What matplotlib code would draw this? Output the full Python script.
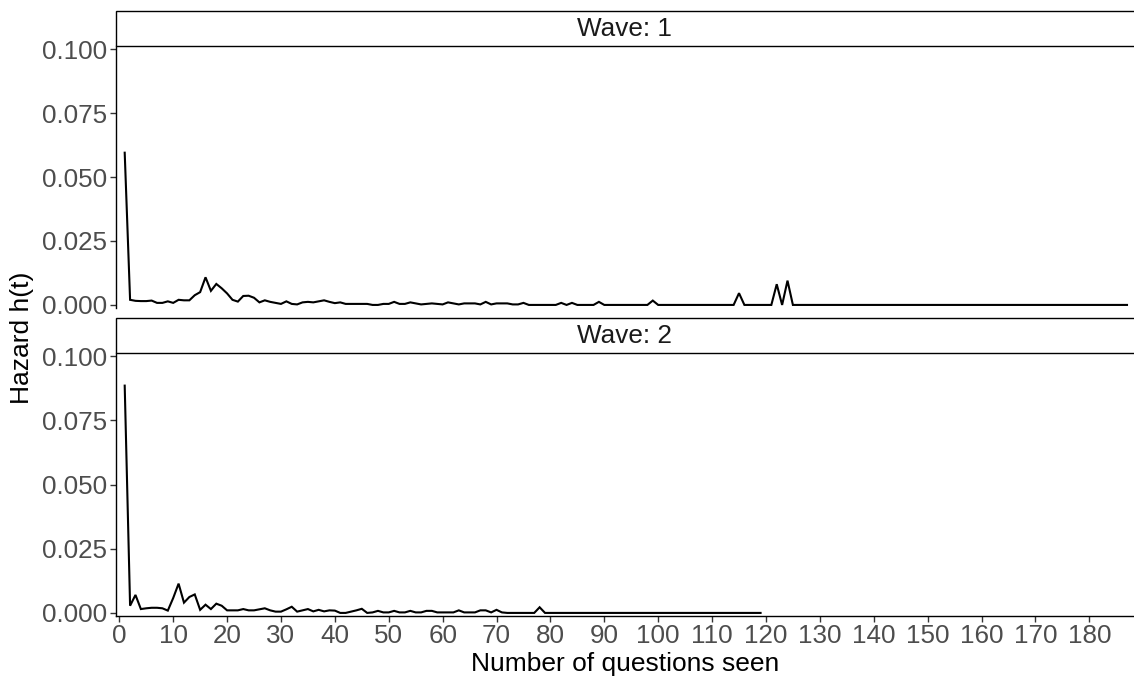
import numpy as np
import matplotlib
matplotlib.use("Agg")
import matplotlib.pyplot as plt
from matplotlib.patches import Rectangle

plt.rcParams['font.family'] = ['Liberation Sans', 'DejaVu Sans']

# Hazard por número de perguntas vistas
wave1_h = [0.0595, 0.0020, 0.0016, 0.0015, 0.0015, 0.0017, 0.0008, 0.0008, 0.0014, 0.0008,
           0.0020, 0.0018, 0.0018, 0.0038, 0.0050, 0.0108, 0.0055, 0.0082, 0.0065, 0.0045,
           0.0020, 0.0013, 0.0035, 0.0036, 0.0028, 0.0010, 0.0018, 0.0012, 0.0008, 0.0004,
           0.0014, 0.0004, 0.0002, 0.0010, 0.0012, 0.0010, 0.0014, 0.0018, 0.0012, 0.0007,
           0.0010, 0.0004, 0.0004, 0.0004, 0.0004, 0.0004, 0.0000, 0.0000, 0.0004, 0.0004,
           0.0012, 0.0004, 0.0004, 0.0010, 0.0006, 0.0002, 0.0004, 0.0006, 0.0004, 0.0002,
           0.0010, 0.0006, 0.0002, 0.0006, 0.0006, 0.0006, 0.0002, 0.0012, 0.0002, 0.0006,
           0.0006, 0.0006, 0.0002, 0.0002, 0.0008, 0.0000, 0.0000, 0.0000, 0.0000, 0.0000,
           0.0000, 0.0008, 0.0000, 0.0008, 0.0000, 0.0000, 0.0000, 0.0000, 0.0012, 0.0000,
           0.0000, 0.0000, 0.0000, 0.0000, 0.0000, 0.0000, 0.0000, 0.0000, 0.0017, 0.0000,
           0.0000, 0.0000, 0.0000, 0.0000, 0.0000, 0.0000, 0.0000, 0.0000, 0.0000, 0.0000,
           0.0000, 0.0000, 0.0000, 0.0000, 0.0046, 0.0000, 0.0000, 0.0000, 0.0000, 0.0000,
           0.0000, 0.0081, 0.0000, 0.0095] + [0.0] * 63

wave2_h = [0.0885, 0.0028, 0.0070, 0.0015, 0.0018, 0.0020, 0.0020, 0.0018, 0.0009, 0.0058,
           0.0114, 0.0040, 0.0062, 0.0072, 0.0012, 0.0032, 0.0015, 0.0036, 0.0028, 0.0010,
           0.0010, 0.0010, 0.0015, 0.0010, 0.0010, 0.0014, 0.0018, 0.0010, 0.0005, 0.0005,
           0.0014, 0.0024, 0.0005, 0.0010, 0.0015, 0.0006, 0.0012, 0.0006, 0.0010, 0.0009,
           0.0000, 0.0000, 0.0005, 0.0010, 0.0016, 0.0000, 0.0002, 0.0008, 0.0002, 0.0002,
           0.0008, 0.0002, 0.0002, 0.0008, 0.0002, 0.0002, 0.0008, 0.0008, 0.0002, 0.0002,
           0.0002, 0.0002, 0.0010, 0.0002, 0.0002, 0.0002, 0.0010, 0.0010, 0.0002, 0.0012,
           0.0002, 0.0000, 0.0000, 0.0000, 0.0000, 0.0000, 0.0000, 0.0022] + [0.0] * 41

wave1_x = np.arange(1, len(wave1_h) + 1)
wave2_x = np.arange(1, len(wave2_h) + 1)

waves = [("Wave: 1", wave1_x, wave1_h), ("Wave: 2", wave2_x, wave2_h)]
y_ticks = [0.0, 0.025, 0.05, 0.075, 0.1]
x_ticks = list(range(0, 181, 10))

fig = plt.figure(figsize=(11.34, 6.77), dpi=100)
W, H = 1134, 677
left, right = 115.7, 1134
# (topo do strip, fundo do strip / topo do painel, fundo do painel) em pixels
panels = [(10.7, 46, 308), (318, 353, 616)]

for i, ((label, x, h), (s_top, p_top, p_bot)) in enumerate(zip(waves, panels)):
    ax = fig.add_axes([left / W, 1 - p_bot / H, (right - left) / W, (p_bot - p_top) / H])
    ax.plot(x, h, color='black', lw=1.5, solid_joinstyle='miter')
    ax.set_xlim(-0.67, 188.3)
    ax.set_ylim(-0.0012, 0.1012)
    ax.set_yticks(y_ticks)
    ax.set_yticklabels([f"{v:.3f}" for v in y_ticks])
    ax.set_xticks(x_ticks)
    for s in ['top', 'right']:
        ax.spines[s].set_visible(False)
    ax.spines['left'].set_linewidth(1.0)
    ax.spines['bottom'].set_linewidth(1.0)
    ax.tick_params(axis='both', labelsize=18.7, labelcolor='#4d4d4d', color='#333333',
                   length=4, width=1.0, pad=2)
    if i == 0:
        ax.spines['bottom'].set_visible(False)
        ax.tick_params(axis='x', bottom=False, labelbottom=False)

    # strip do facet
    sax = fig.add_axes([left / W, 1 - p_top / H, (right - left) / W, (p_top - s_top) / H])
    sax.set_xlim(0, 1)
    sax.set_ylim(0, 1)
    sax.axis('off')
    sax.add_patch(Rectangle((0, 0), 1.2, 1, facecolor='white', edgecolor='black',
                            lw=1.0, clip_on=False))
    sax.text(0.5, 0.48, label, ha='center', va='center', fontsize=18.8, color='#1a1a1a')

fig.text(625 / W, 1 - 664 / H, "Number of questions seen", ha='center', va='center',
         fontsize=19, color='black')
fig.text(22 / W, 1 - 338 / H, "Hazard h(t)", ha='center', va='center', rotation=90,
         fontsize=19, color='black')

fig.savefig("out.png", dpi=100)
